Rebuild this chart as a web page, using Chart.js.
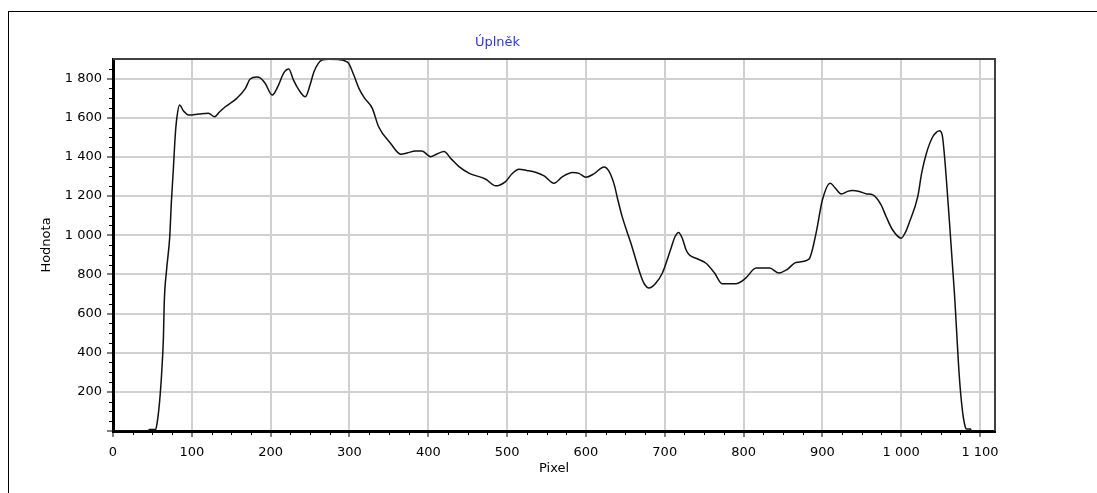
<!DOCTYPE html>
<html>
<head>
<meta charset="utf-8">
<script src="https://cdn.jsdelivr.net/npm/chart.js@4.4.1/dist/chart.umd.min.js"></script>
<style>
  html, body { margin: 0; padding: 0; background: #fff; overflow: hidden; width: 1097px; height: 493px; }
  #frame { position: absolute; left: 8px; top: 11px; width: 2000px; height: 2000px; border-top: 1px solid #000; border-left: 1px solid #000; }
  #wrap { position: absolute; left: 0; top: 0; width: 1032px; height: 493px; }
</style>
</head>
<body>
<div id="frame"></div>
<div id="wrap"><canvas id="c" width="1032" height="493"></canvas></div>
<script>
const chartTitle = 'Úplněk';
const xAxisTitle = 'Pixel';
const yAxisTitle = 'Hodnota';

const pixel = [
  0,45,46,54,55,59,62,64,65,68,
  72,74,76.5,79,81,84.5,89.5,96,109,121,
  129,135,142.5,157,168,174,182.5,187,193,202,
  210,216.5,223,229,236,244,250,255,265,274,
  286,293,299,305.5,312,319,329,337,352,365,
  373,384,392,403,411,420,429,439,451.5,473,
  485.5,498,506,515,525,536,547,559.5,570,583,
  591,600,610,623,629,636,640,646,657,670,
  674,680,688,697,708,713,717.5,722,727,731,
  741,752,763,773,790,802,816,833,845,855,
  866.5,883,892,900,910,916,924,932,938,947,
  956,964,974.5,981,989,1000,1005,1010,1021,1026,
  1032,1040,1045,1048.5,1052,1055,1061,1067.5,1074,1078,
  1081.5,1083,1088,1089,1119
];
const hodnota = [
  0,0,8,8,18,145,314,483,655,824,
  993,1165,1333,1512,1599,1665,1634,1614,1619,1623,
  1605,1629,1656,1699,1750,1798,1808,1803,1776,1716,
  1767,1828,1849,1792,1741,1707,1767,1835,1894,1899,
  1897,1892,1878,1818,1750,1701,1648,1554,1470,1414,
  1420,1430,1430,1401,1415,1427,1390,1350,1317,1286,
  1252,1274,1313,1337,1331,1322,1303,1266,1298,1320,
  1316,1296,1313,1349,1328,1257,1189,1095,960,789,
  752,730,752,807,934,992,1014,987,926,900,
  880,858,808,752,752,778,832,832,807,824,
  861,878,1011,1180,1266,1242,1211,1224,1228,1223,
  1211,1206,1155,1094,1028,985,1012,1062,1197,1318,
  1419,1503,1527,1534,1512,1401,1079,705,263,94,
  18,10,10,0,0
];
const xTicks = [0,100,200,300,400,500,600,700,800,900,1000,1100];
const yTicks = [0,200,400,600,800,1000,1200,1400,1600,1800];
const xRange = [0, 1119];
const yRange = [0, 1900];

function fmt(v) {
  return String(v).replace(/\B(?=(\d{3})+(?!\d))/g, '\u00a0');
}

Chart.defaults.font.family = "'DejaVu Sans', sans-serif";
Chart.defaults.font.size = 13;
Chart.defaults.color = '#000';

const framePlugin = {
  id: 'frameMinor',
  afterDatasetsDraw(chart) {
    const ctx = chart.ctx;
    const a = chart.chartArea;
    const xs = chart.scales.x, ys = chart.scales.y;
    ctx.save();
    ctx.strokeStyle = '#404040';
    ctx.lineWidth = 2;
    ctx.beginPath();
    ctx.moveTo(a.left, a.top);
    ctx.lineTo(a.right, a.top);
    ctx.lineTo(a.right, a.bottom);
    ctx.stroke();
    ctx.strokeStyle = '#000';
    ctx.lineWidth = 1;
    ctx.beginPath();
    for (let v = 25; v < xs.max; v += 25) {
      if (v % 100 === 0) continue;
      const px = Math.round(xs.getPixelForValue(v)) + 0.5;
      ctx.moveTo(px, a.bottom + 1);
      ctx.lineTo(px, a.bottom + 4);
    }
    for (let v = 50; v < ys.max; v += 50) {
      if (v % 200 === 0) continue;
      const py = Math.round(ys.getPixelForValue(v)) + 0.5;
      ctx.moveTo(a.left - 1, py);
      ctx.lineTo(a.left - 4, py);
    }
    ctx.stroke();
    ctx.restore();
  }
};

new Chart(document.getElementById('c'), {
  type: 'line',
  data: {
    datasets: [{
      data: pixel.map((p, i) => ({ x: p, y: hodnota[i] })),
      borderColor: '#111',
      borderWidth: 1.5,
      pointRadius: 0,
      cubicInterpolationMode: 'monotone',
      fill: false
    }]
  },
  options: {
    responsive: false,
    animation: false,
    layout: { padding: { left: 0, right: 37, top: 0, bottom: 0 } },
    plugins: {
      legend: { display: false },
      tooltip: { enabled: false },
      title: {
        display: true,
        text: chartTitle,
        color: '#3030ff',
        font: { size: 13, weight: 'normal' },
        padding: { top: 35, bottom: 8.4 }
      }
    },
    scales: {
      x: {
        type: 'linear',
        min: xRange[0],
        max: xRange[1],
        afterBuildTicks: s => { s.ticks = xTicks.map(v => ({ value: v })); },
        afterFit: s => { s.height = 62; },
        ticks: { callback: v => fmt(v), padding: 8, maxRotation: 0, autoSkip: false },
        grid: { color: '#d0d0d0', lineWidth: 2, tickColor: '#000', tickLength: 6, tickWidth: 1 },
        border: { color: '#000', width: 3 },
        title: { display: true, text: xAxisTitle, padding: { top: 0, bottom: 17 } }
      },
      y: {
        type: 'linear',
        min: yRange[0],
        max: yRange[1],
        afterBuildTicks: s => { s.ticks = yTicks.map(v => ({ value: v })); },
        afterFit: s => { s.width = 113; },
        ticks: { callback: v => (v === 0 ? '' : fmt(v)), padding: 5, autoSkip: false },
        grid: { color: '#d0d0d0', lineWidth: 2, tickColor: '#000', tickLength: 6, tickWidth: 1 },
        border: { color: '#000', width: 3 },
        title: { display: true, text: yAxisTitle, padding: { top: 39, bottom: 0 } }
      }
    }
  },
  plugins: [framePlugin]
});
</script>
</body>
</html>
